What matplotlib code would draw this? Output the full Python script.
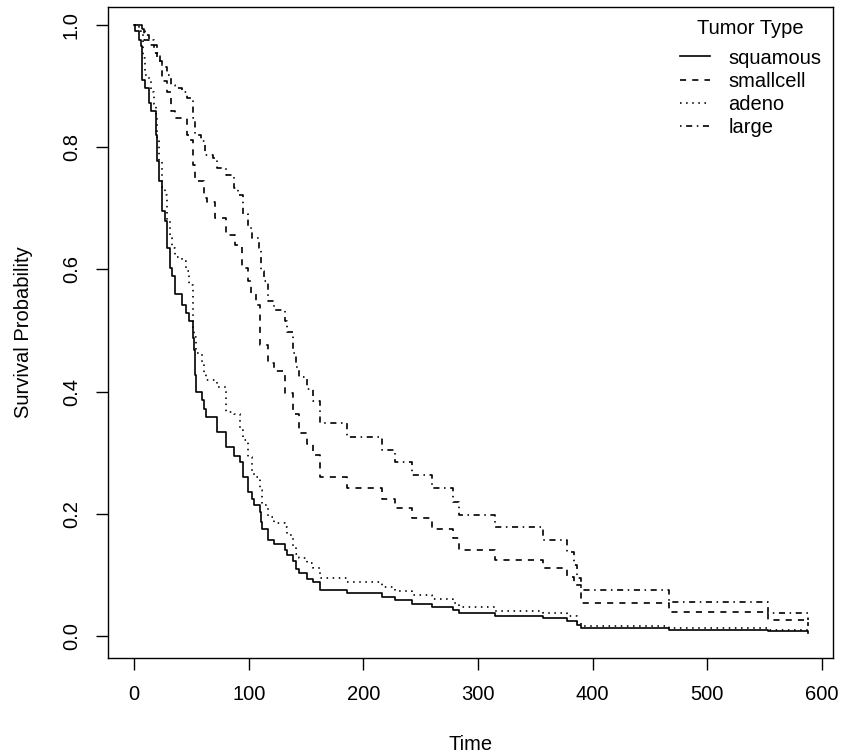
import matplotlib
matplotlib.use("Agg")
import matplotlib.pyplot as plt

plt.rcParams['font.family'] = ['Liberation Sans', 'DejaVu Sans']
plt.rcParams['lines.scale_dashes'] = False

# step curves (time, survival after the step)
sq_t = [0, 1, 4, 6, 7, 10, 13, 15, 19, 20, 22, 24, 27, 29, 31, 33, 36, 42, 45, 48,
        51, 52, 53, 54, 59, 61, 63, 72, 80, 87, 92, 95, 99, 103, 105, 110, 111, 112, 117, 122,
        132, 133, 139, 141, 144, 151, 156, 162, 186, 216, 228, 242, 260, 278, 283, 315, 357, 378, 386, 390,
        467, 553, 588]
sq_s = [1.0, 0.99, 0.975, 0.965, 0.91, 0.897, 0.872, 0.859, 0.82, 0.777, 0.745, 0.696, 0.679, 0.635, 0.602, 0.589, 0.559, 0.542, 0.529, 0.515,
        0.488, 0.468, 0.427, 0.400, 0.386, 0.372, 0.359, 0.334, 0.309, 0.295, 0.284, 0.261, 0.236, 0.224, 0.214, 0.203, 0.187, 0.175, 0.157, 0.150,
        0.141, 0.133, 0.122, 0.110, 0.103, 0.094, 0.089, 0.075, 0.070, 0.064, 0.059, 0.052, 0.047, 0.042, 0.037, 0.033, 0.029, 0.0245, 0.018, 0.0136,
        0.0104, 0.0076, 0.005]

sc_t = [0, 6, 9, 13, 17, 20, 24, 29, 32, 36, 46, 49, 51, 53, 55, 61, 64, 71, 80, 88,
        94, 99, 102, 106, 110, 117, 122, 132, 139, 144, 151, 156, 162, 186, 216, 228, 242, 260, 278, 283,
        315, 357, 378, 384, 390, 467, 553, 588]
sc_s = [1.0, 0.994, 0.976, 0.968, 0.954, 0.941, 0.908, 0.891, 0.859, 0.848, 0.820, 0.812, 0.771, 0.750, 0.744, 0.717, 0.711, 0.684, 0.657, 0.640,
        0.602, 0.581, 0.559, 0.542, 0.476, 0.447, 0.433, 0.397, 0.364, 0.332, 0.315, 0.296, 0.261, 0.243, 0.225, 0.209, 0.193, 0.175, 0.160, 0.141,
        0.125, 0.111, 0.097, 0.083, 0.0535, 0.040, 0.026, 0.016]

ad_t = [0, 4, 6, 8, 10, 13, 15, 17, 19, 20, 22, 24, 27, 29, 31, 33, 36, 42, 45, 48,
        51, 52, 54, 59, 61, 63, 72, 80, 87, 92, 95, 99, 103, 105, 110, 112, 117, 122, 132, 133,
        139, 141, 144, 151, 156, 162, 186, 216, 228, 242, 260, 278, 283, 315, 357, 378, 386, 390, 467, 553,
        588]
ad_s = [1.0, 0.99, 0.987, 0.946, 0.919, 0.910, 0.891, 0.870, 0.853, 0.810, 0.777, 0.733, 0.722, 0.679, 0.651, 0.635, 0.621, 0.613, 0.597, 0.575,
        0.50, 0.49, 0.463, 0.446, 0.430, 0.419, 0.408, 0.367, 0.364, 0.337, 0.321, 0.293, 0.269, 0.261, 0.239, 0.214, 0.195, 0.185, 0.178, 0.165,
        0.145, 0.135, 0.127, 0.119, 0.111, 0.095, 0.088, 0.081, 0.074, 0.067, 0.060, 0.0535, 0.048, 0.041, 0.037, 0.032, 0.022, 0.016, 0.0126, 0.0098,
        0.006]

lg_t = [0, 7, 10, 13, 17, 20, 23, 24, 29, 32, 36, 42, 46, 51, 53, 58, 62, 69, 72, 80,
        87, 91, 95, 99, 103, 109, 111, 113, 117, 122, 132, 133, 139, 141, 144, 151, 156, 162, 186, 216,
        228, 242, 260, 278, 283, 315, 357, 378, 384, 386, 390, 467, 553, 588]
lg_s = [1.0, 0.990, 0.984, 0.976, 0.968, 0.954, 0.941, 0.932, 0.919, 0.902, 0.897, 0.891, 0.880, 0.848, 0.820, 0.810, 0.788, 0.782, 0.766, 0.755,
        0.733, 0.722, 0.690, 0.668, 0.651, 0.635, 0.597, 0.581, 0.548, 0.534, 0.515, 0.498, 0.463, 0.440, 0.424, 0.405, 0.384, 0.348, 0.326, 0.304,
        0.284, 0.263, 0.242, 0.220, 0.198, 0.179, 0.157, 0.138, 0.116, 0.095, 0.076, 0.056, 0.038, 0.026]

labels = ["squamous", "smallcell", "adeno", "large"]
x_ticks = [0, 100, 200, 300, 400, 500, 600]
y_ticks = [0.0, 0.2, 0.4, 0.6, 0.8, 1.0]

styles = ['-', (0, (4.4, 4.4)), (0, (1.1, 3.3)), (0, (1.1, 3.3, 4.4, 3.3))]
FS = 14.5

W, H = 842, 756
fig = plt.figure(figsize=(W / 100, H / 100), dpi=100)
ax = fig.add_axes([108 / W, 1 - 658 / H, 725 / W, 651 / H])

series = [(sq_t, sq_s), (sc_t, sc_s), (ad_t, ad_s), (lg_t, lg_s)]
for (t, s), lab, ls in zip(series, labels, styles):
    ax.step(t, s, where='post', color='black', lw=1.2, linestyle=ls, label=lab)

ax.set_xlim(-22.7, 609.6)
ax.set_ylim(-0.036, 1.0295)
ax.set_xticks(x_ticks)
ax.set_yticks(y_ticks)
ax.set_yticklabels([f"{v:.1f}" for v in y_ticks], rotation=90, va='center')
ax.tick_params(direction='out', length=8.5, width=1.0, labelsize=FS, pad=11)
for sp in ax.spines.values():
    sp.set_linewidth(1.0)

ax.set_xlabel("Time", fontsize=FS, labelpad=22)
ax.set_ylabel("Survival Probability", fontsize=FS, labelpad=21)

# legend: title placed on its own, entries below
fig.text(750 / W, 1 - 28 / H, "Tumor Type", fontsize=FS, ha='center', va='center')
ax.legend(loc='upper left', bbox_to_anchor=(680 / W, 1 - 48.5 / H), bbox_transform=fig.transFigure,
          frameon=False, fontsize=FS, handlelength=1.5, handletextpad=0.9,
          labelspacing=0.21, borderaxespad=0, borderpad=0)

fig.savefig("out.png", dpi=100)
